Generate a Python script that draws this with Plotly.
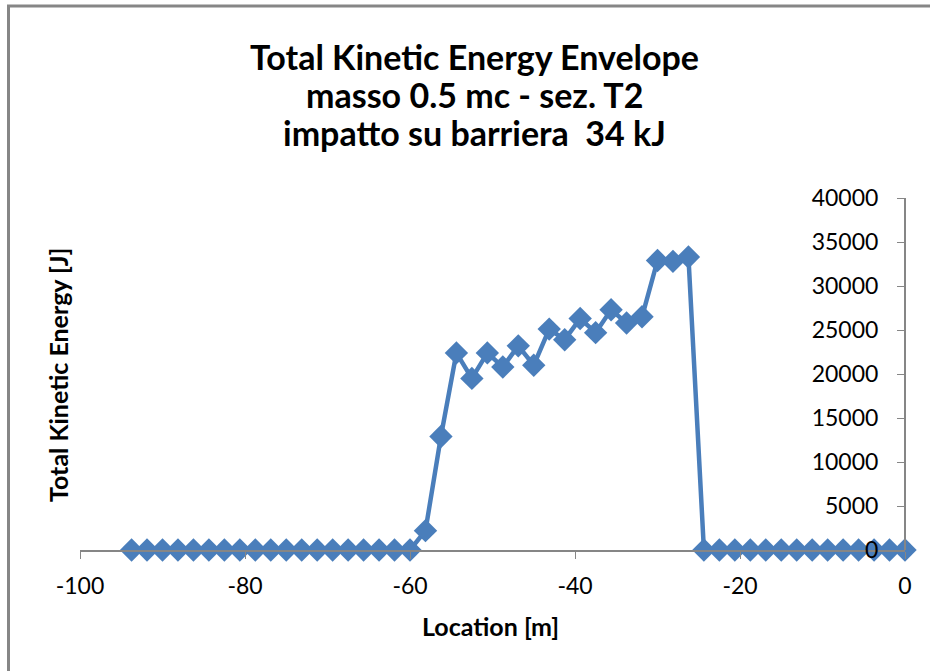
import plotly.graph_objects as go

# Data
location_m = [-93.75, -91.875, -90.0, -88.125, -86.25, -84.375, -82.5, -80.625, -78.75, -76.875,
              -75.0, -73.125, -71.25, -69.375, -67.5, -65.625, -63.75, -61.875, -60.0, -58.125,
              -56.25, -54.375, -52.5, -50.625, -48.75, -46.875, -45.0, -43.125, -41.25, -39.375,
              -37.5, -35.625, -33.75, -31.875, -30.0, -28.125, -26.25, -24.375, -22.5, -20.625,
              -18.75, -16.875, -15.0, -13.125, -11.25, -9.375, -7.5, -5.625, -3.75, -1.875, 0.0]
kinetic_energy_J = [0, 0, 0, 0, 0, 0, 0, 0, 0, 0,
                    0, 0, 0, 0, 0, 0, 0, 0, 0, 2200,
                    12900, 22400, 19500, 22400, 20800, 23200, 21000, 25100, 23900, 26300,
                    24700, 27300, 25800, 26500, 32900, 32800, 33300, 0, 0, 0,
                    0, 0, 0, 0, 0, 0, 0, 0, 0, 0, 0]
x_ticks = [-100, -80, -60, -40, -20, 0]
y_ticks = [0, 5000, 10000, 15000, 20000, 25000, 30000, 35000, 40000]

title_lines = ["Total Kinetic Energy Envelope", "masso 0.5 mc - sez. T2", "impatto su barriera  34 kJ"]

FONT = "Lato, 'Open Sans', sans-serif"
BLUE = "#4A7EBB"
GREY = "#868686"

fig = go.Figure()
fig.add_trace(go.Scatter(
    x=location_m, y=kinetic_energy_J, mode="lines+markers",
    line=dict(color=BLUE, width=4.5),
    marker=dict(symbol="diamond", size=18, color=BLUE),
    cliponaxis=False, showlegend=False,
))

W, H = 930, 671
L, R, T, B = 80, 25, 198, 121
pw, ph = W - L - R, H - T - B

def px_x(p):
    return (p - L) / pw

def px_y(p):
    return (H - B - p) / ph

annotations = []
for line, yc in zip(title_lines, [56, 94, 132]):
    annotations.append(dict(text="<b>" + line + "</b>", x=px_x(474), y=px_y(yc),
                            xref="paper", yref="paper", showarrow=False,
                            xanchor="center", yanchor="middle",
                            font=dict(size=34, family=FONT, color="black")))
annotations += [
    dict(text="<b>Total Kinetic Energy [J]</b>", x=px_x(58), y=px_y(375),
         xref="paper", yref="paper", textangle=-90, showarrow=False,
         xanchor="center", yanchor="middle", font=dict(size=25, family=FONT, color="black")),
    dict(text="<b>Location [m]</b>", x=px_x(490), y=px_y(626),
         xref="paper", yref="paper", showarrow=False,
         xanchor="center", yanchor="middle", font=dict(size=25, family=FONT, color="black")),
]

fig.update_layout(
    width=W, height=H,
    margin=dict(l=L, r=R, t=T, b=B),
    paper_bgcolor="white", plot_bgcolor="white",
    font=dict(family=FONT, color="black"),
    xaxis=dict(range=[-100, 0], tickvals=x_ticks, ticktext=[str(v) for v in x_ticks],
               showgrid=False, zeroline=False, showline=True, linecolor=GREY, linewidth=2,
               ticks="outside", ticklen=7, tickcolor=GREY, tickwidth=1,
               tickfont=dict(size=23, family=FONT, color="black"), anchor="y",
               ticklabelstandoff=7),
    yaxis=dict(range=[0, 40000], tickvals=y_ticks, ticktext=[str(v) for v in y_ticks],
               showgrid=False, zeroline=False, showline=True, linecolor=GREY, linewidth=2,
               ticks="outside", ticklen=7, tickcolor=GREY, tickwidth=1,
               tickfont=dict(size=23, family=FONT, color="black"),
               anchor="free", position=1, side="left", ticklabelstandoff=14),
    annotations=annotations,
    shapes=[
        dict(type="rect", xref="paper", yref="paper",
             x0=px_x(8.5), x1=px_x(940), y0=px_y(690), y1=px_y(6),
             line=dict(color=GREY, width=3), fillcolor="rgba(0,0,0,0)", layer="below"),
    ],
)

fig.write_html("out.html")
